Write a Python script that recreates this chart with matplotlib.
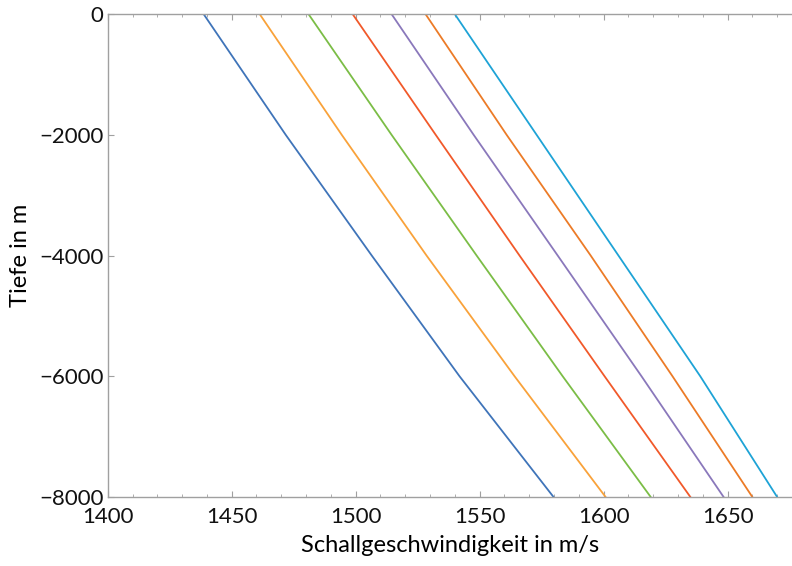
"""
Schallgeschwindigkeit im Wasser über der Tiefe, sieben Kurven
"""

import matplotlib
matplotlib.use("Agg")
import matplotlib.pyplot as plt
from matplotlib.ticker import MultipleLocator, NullLocator

plt.rcParams["font.family"] = ["Lato", "DejaVu Sans"]

depth = [0, -2000, -4000, -6000, -8000]

# speed of sound (m/s) at the depths above
speed_1 = [1438.7, 1471.8, 1506.5, 1541.9, 1579.8]
speed_2 = [1461.3, 1494.4, 1528.6, 1564.1, 1600.8]
speed_3 = [1481.0, 1514.5, 1548.8, 1583.5, 1619.0]
speed_4 = [1498.8, 1532.3, 1566.1, 1600.4, 1635.0]
speed_5 = [1514.5, 1547.6, 1581.5, 1615.3, 1648.4]
speed_6 = [1528.2, 1560.9, 1594.8, 1627.8, 1660.0]
speed_7 = [1540.0, 1573.0, 1606.0, 1639.0, 1670.0]

series = [speed_1, speed_2, speed_3, speed_4, speed_5, speed_6, speed_7]
colors = ["#3f74b9", "#f9a23a", "#7bbd46", "#f1592a", "#8a78bb", "#ec7b27", "#1ea3d6"]


def main():
    fig = plt.figure(figsize=(7.92, 5.66), dpi=100)
    ax = fig.add_axes([0.136, 0.122, 0.864, 0.853])

    for s, c in zip(series, colors):
        ax.plot(s, depth, color=c, lw=1.3)

    ax.set_xlim(1400, 1676)
    ax.set_ylim(-8000, 0)

    ax.xaxis.set_major_locator(MultipleLocator(50))
    ax.xaxis.set_minor_locator(MultipleLocator(10))
    ax.yaxis.set_major_locator(MultipleLocator(2000))
    ax.yaxis.set_minor_locator(NullLocator())

    for side in ["left", "bottom", "top"]:
        ax.spines[side].set_color("#a0a0a0")
        ax.spines[side].set_linewidth(1.0)
    ax.spines["right"].set_visible(False)

    ax.tick_params(which="both", direction="in", color="#a0a0a0", top=True,
                   labelsize=16, labelcolor="#111111")
    ax.tick_params(which="major", length=4, width=0.8)
    ax.tick_params(which="minor", length=2, width=0.6)
    ax.tick_params(axis="x", pad=7)
    ax.tick_params(axis="y", pad=3)

    ax.set_xlabel("Schallgeschwindigkeit in m/s", fontsize=17, labelpad=6)
    ax.set_ylabel("Tiefe in m", fontsize=17, labelpad=6)

    fig.savefig("out.png", dpi=100)


if __name__ == "__main__":
    main()
